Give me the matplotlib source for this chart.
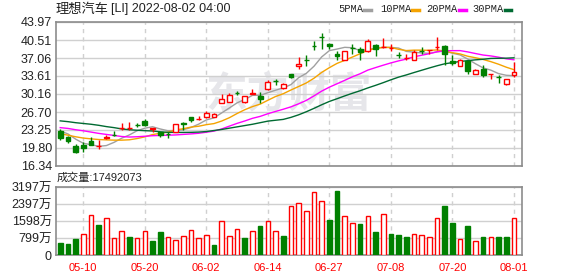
import matplotlib
matplotlib.use('Agg')
import matplotlib.pyplot as plt
from matplotlib.lines import Line2D
import numpy as np

plt.rcParams['font.family'] = ['Liberation Sans', 'Noto Sans CJK SC']

dates = ['05-05', '05-06', '05-09', '05-10', '05-11', '05-12', '05-13', '05-16', '05-17', '05-18',
         '05-19', '05-20', '05-23', '05-24', '05-25', '05-26', '05-27', '05-31', '06-01', '06-02',
         '06-03', '06-06', '06-07', '06-08', '06-09', '06-10', '06-13', '06-14', '06-15', '06-16',
         '06-17', '06-21', '06-22', '06-23', '06-24', '06-27', '06-28', '06-29', '06-30', '07-01',
         '07-05', '07-06', '07-07', '07-08', '07-11', '07-12', '07-13', '07-14', '07-15', '07-18',
         '07-19', '07-20', '07-21', '07-22', '07-25', '07-26', '07-27', '07-28', '07-29', '08-01']

open_ = [23.06, 21.90, 20.18, 20.37, 21.14, 20.10, 21.78, 22.25, 23.65, 23.55,
         24.25, 25.04, 23.52, 22.86, 22.55, 22.93, 24.50, 25.68, 25.35, 25.81,
         25.81, 28.49, 28.68, 30.35, 28.56, 30.25, 29.77, 31.11, 32.65, 31.24,
         33.93, 35.46, 36.75, 39.45, 41.05, 39.81, 37.77, 36.74, 39.05, 38.85,
         38.41, 39.62, 39.10, 38.94, 37.65, 37.02, 36.62, 38.38, 38.56, 39.10,
         39.37, 36.43, 35.46, 36.43, 33.93, 34.89, 33.90, 33.46, 32.07, 33.80]
high = [23.44, 22.03, 20.50, 21.01, 21.84, 21.33, 22.22, 23.06, 24.65, 24.78,
        24.65, 25.30, 23.60, 22.90, 22.86, 24.40, 24.75, 25.70, 25.93, 26.83,
        26.57, 30.16, 30.28, 30.67, 29.80, 31.05, 30.54, 32.90, 32.97, 32.33,
        34.06, 37.25, 37.57, 40.32, 41.86, 39.85, 38.34, 38.40, 39.75, 39.20,
        40.77, 39.75, 40.96, 39.75, 38.20, 37.77, 38.66, 39.17, 38.60, 41.09,
        39.50, 37.57, 36.93, 36.43, 35.02, 35.66, 33.93, 33.87, 33.00, 36.30]
low = [21.33, 20.82, 18.83, 19.09, 20.31, 19.54, 21.46, 22.03, 23.31, 23.25,
       23.90, 24.02, 22.80, 21.90, 21.78, 22.90, 23.30, 24.85, 25.17, 25.61,
       25.68, 28.49, 28.68, 29.90, 28.50, 30.25, 28.49, 30.92, 31.82, 31.11,
       33.29, 35.02, 35.60, 38.66, 38.85, 38.73, 36.74, 36.70, 37.90, 36.74,
       38.20, 37.38, 38.98, 38.34, 37.13, 36.62, 36.62, 37.90, 37.77, 38.53,
       35.78, 35.78, 35.46, 34.06, 33.93, 33.42, 32.97, 32.27, 31.95, 33.35]
close = [21.78, 21.14, 19.09, 19.73, 20.43, 20.20, 21.85, 22.20, 23.70, 23.60,
         24.20, 24.27, 23.56, 22.22, 22.50, 24.33, 24.45, 25.17, 25.40, 26.57,
         26.32, 29.20, 29.90, 30.30, 29.77, 30.30, 29.20, 32.52, 32.60, 32.01,
         33.42, 35.85, 36.70, 39.40, 41.00, 39.43, 37.38, 38.34, 39.00, 38.28,
         40.26, 38.85, 39.15, 38.98, 37.60, 37.06, 38.15, 38.34, 38.60, 39.15,
         37.77, 36.04, 36.74, 34.57, 34.69, 33.74, 33.93, 33.42, 32.97, 34.30]
prev_close = 22.90

# volume in 万
volume = [577, 530, 749, 983, 1872, 1420, 1732, 780, 1123, 842,
          780, 1123, 655, 1076, 827, 702, 889, 1170, 780, 936,
          468, 1576, 874, 1217, 796, 1123, 1357, 1576, 1123, 889,
          2293, 2465, 2059, 2980, 2558, 1638, 2995, 1825, 1498, 1451,
          1825, 1076, 1950, 983, 936, 842, 967, 920, 827, 1763,
          2293, 1498, 733, 1357, 640, 842, 827, 842, 842, 1749]
last_volume = 17492073

ma5 = [23.06, 22.50, 21.50, 20.70, 20.43, 20.12, 20.26, 20.88, 21.68, 22.31,
       23.11, 23.59, 23.87, 23.45, 23.10, 23.15, 23.30, 23.73, 24.37, 25.18,
       25.58, 26.53, 27.48, 28.46, 29.10, 29.90, 29.90, 30.40, 30.88, 31.33,
       31.95, 33.28, 34.12, 35.48, 37.27, 38.48, 38.78, 39.11, 39.03, 38.49,
       38.65, 38.95, 39.11, 39.10, 38.97, 38.33, 38.19, 38.03, 37.95, 38.25,
       38.40, 37.98, 37.65, 36.85, 35.96, 35.16, 34.73, 34.07, 33.75, 33.67]
ma10 = [22.54, 22.25, 21.95, 21.70, 21.55, 21.42, 21.35, 21.30, 21.30, 21.37,
        21.61, 21.93, 22.37, 22.62, 22.83, 23.24, 23.50, 23.80, 23.97, 24.27,
        24.48, 24.97, 25.61, 26.41, 27.14, 27.74, 28.21, 28.95, 29.67, 30.21,
        30.92, 31.59, 32.27, 33.18, 34.30, 35.21, 36.03, 36.61, 37.25, 37.88,
        38.56, 38.86, 39.11, 39.07, 38.73, 38.49, 38.57, 38.57, 38.53, 38.61,
        38.37, 38.08, 37.84, 37.40, 37.11, 36.78, 36.36, 35.87, 35.30, 34.82]
ma20 = [23.70, 23.55, 23.30, 23.10, 22.85, 22.60, 22.40, 22.20, 22.00, 21.90,
        21.95, 22.05, 22.15, 22.20, 22.25, 22.30, 22.40, 22.50, 22.62, 22.82,
        23.04, 23.45, 23.99, 24.52, 24.98, 25.49, 25.86, 26.37, 26.81, 27.23,
        27.69, 28.27, 28.93, 29.79, 30.71, 31.47, 32.12, 32.78, 33.46, 34.04,
        34.74, 35.22, 35.68, 36.12, 36.51, 36.85, 37.29, 37.59, 37.89, 38.25,
        38.46, 38.47, 38.48, 38.23, 37.92, 37.63, 37.46, 37.22, 36.91, 36.72]
ma30 = [25.00, 24.85, 24.65, 24.50, 24.35, 24.15, 23.90, 23.70, 23.45, 23.30,
        23.20, 23.12, 23.06, 22.90, 22.80, 22.78, 22.78, 22.80, 22.85, 22.95,
        23.15, 23.35, 23.60, 23.85, 24.10, 24.35, 24.65, 24.95, 25.12, 25.28,
        25.67, 26.16, 26.75, 27.40, 28.09, 28.73, 29.25, 29.79, 30.30, 30.78,
        31.32, 31.81, 32.33, 32.88, 33.39, 33.81, 34.27, 34.71, 35.15, 35.57,
        35.95, 36.18, 36.40, 36.55, 36.71, 36.82, 36.98, 37.01, 37.03, 37.10]

price_ticks = ['16.34', '19.80', '23.25', '26.70', '30.16', '33.61', '37.06', '40.51', '43.97']
vol_ticks = ['0', '799万', '1598万', '2397万', '3197万']
vol_tick_vals = [0, 799, 1598, 2397, 3197]
tick_dates = ['05-10', '05-20', '06-02', '06-14', '06-27', '07-08', '07-20', '08-01']
ma_names = ['5PMA', '10PMA', '20PMA', '30PMA']

RED = '#ff0000'
GREEN = '#008000'
ma_colors = ['#a0a0a0', '#f5a300', '#ff00ff', '#006a32']
GRID = '#d0d0d0'
BORDER = '#8c8c8c'

W, H = 578, 276
fig = plt.figure(figsize=(W / 100, H / 100), dpi=100)


def px_axes(l, t, r, b):
    return fig.add_axes([l / W, 1 - b / H, (r - l) / W, (b - t) / H])


ax = px_axes(56, 22, 522, 166)
axv = px_axes(56, 187, 522, 255)

x = np.arange(len(dates))
o = np.array(open_)
c = np.array(close)
up = c >= o
xt = [dates.index(d) for d in tick_dates]

# price panel
ax.vlines(x, low, high, colors=np.where(up, RED, GREEN), lw=1, zorder=3)
body_h = np.maximum(np.abs(c - o), 0.02)
ax.bar(x, body_h, bottom=np.minimum(o, c), width=0.62,
       color=np.where(up, 'white', GREEN), edgecolor=np.where(up, RED, GREEN),
       linewidth=1, zorder=4)
for vals, col in zip([ma5, ma10, ma20, ma30], ma_colors):
    ax.plot(x, vals, color=col, lw=1, zorder=2)

ax.text(0.5, 0.5, '东方财富', transform=ax.transAxes, ha='center', va='center',
        fontsize=30, fontweight='bold', color='#e6e6ea', family='Noto Sans CJK SC', zorder=1)

ax.set_ylim(float(price_ticks[0]), float(price_ticks[-1]))
ax.set_yticks([float(t) for t in price_ticks])
ax.set_yticklabels(price_ticks)

# volume panel
vc = np.array([prev_close] + close[:-1])
vup = c >= vc
axv.bar(x, volume, width=0.6, color=np.where(vup, 'white', GREEN),
        edgecolor=np.where(vup, RED, GREEN), linewidth=1, zorder=3)
axv.set_ylim(0, vol_tick_vals[-1])
axv.set_yticks(vol_tick_vals)
axv.set_yticklabels(vol_ticks)

for a in (ax, axv):
    a.set_xlim(-0.55, 60.05)
    a.set_xticks(xt)
    a.grid(axis='y', color=GRID, lw=1, zorder=0)
    for t in xt:
        a.axvline(t, color=GRID, lw=1, ls=(0, (3, 3)), zorder=0)
    for s in a.spines.values():
        s.set_color(BORDER)
        s.set_linewidth(1.2)
    a.tick_params(length=0, labelsize=9, colors='#222222', pad=3)
ax.set_xticklabels([])
axv.set_xticklabels(tick_dates)
axv.tick_params(axis='x', labelcolor=RED, labelsize=8, pad=6)

# header texts
fig.text(56 / W, 1 - 9 / H, '理想汽车', fontsize=9.5, va='center', ha='left',
         family='Noto Sans CJK SC', color='#222222')
fig.text(111 / W, 1 - 9 / H, '[LI] 2022-08-02 04:00', fontsize=9, va='center', ha='left',
         color='#222222')
fig.text(57 / W, 1 - 177.5 / H, '成交量:' + str(last_volume), fontsize=8, va='center',
         ha='left', color='#222222')

leg_x = [338, 380, 426, 472]
dash_x = [(364, 371), (412, 419), (459, 466), (505, 511)]
for name, lx, (d0, d1), col in zip(ma_names, leg_x, dash_x, ma_colors):
    fig.text(lx / W, 1 - 9 / H, name, fontsize=7.5, family='Liberation Mono',
             va='center', ha='left', color='#222222')
    fig.add_artist(Line2D([d0 / W, d1 / W], [1 - 9.5 / H, 1 - 9.5 / H], color=col, lw=2.5))

fig.savefig('out.png', dpi=100)
